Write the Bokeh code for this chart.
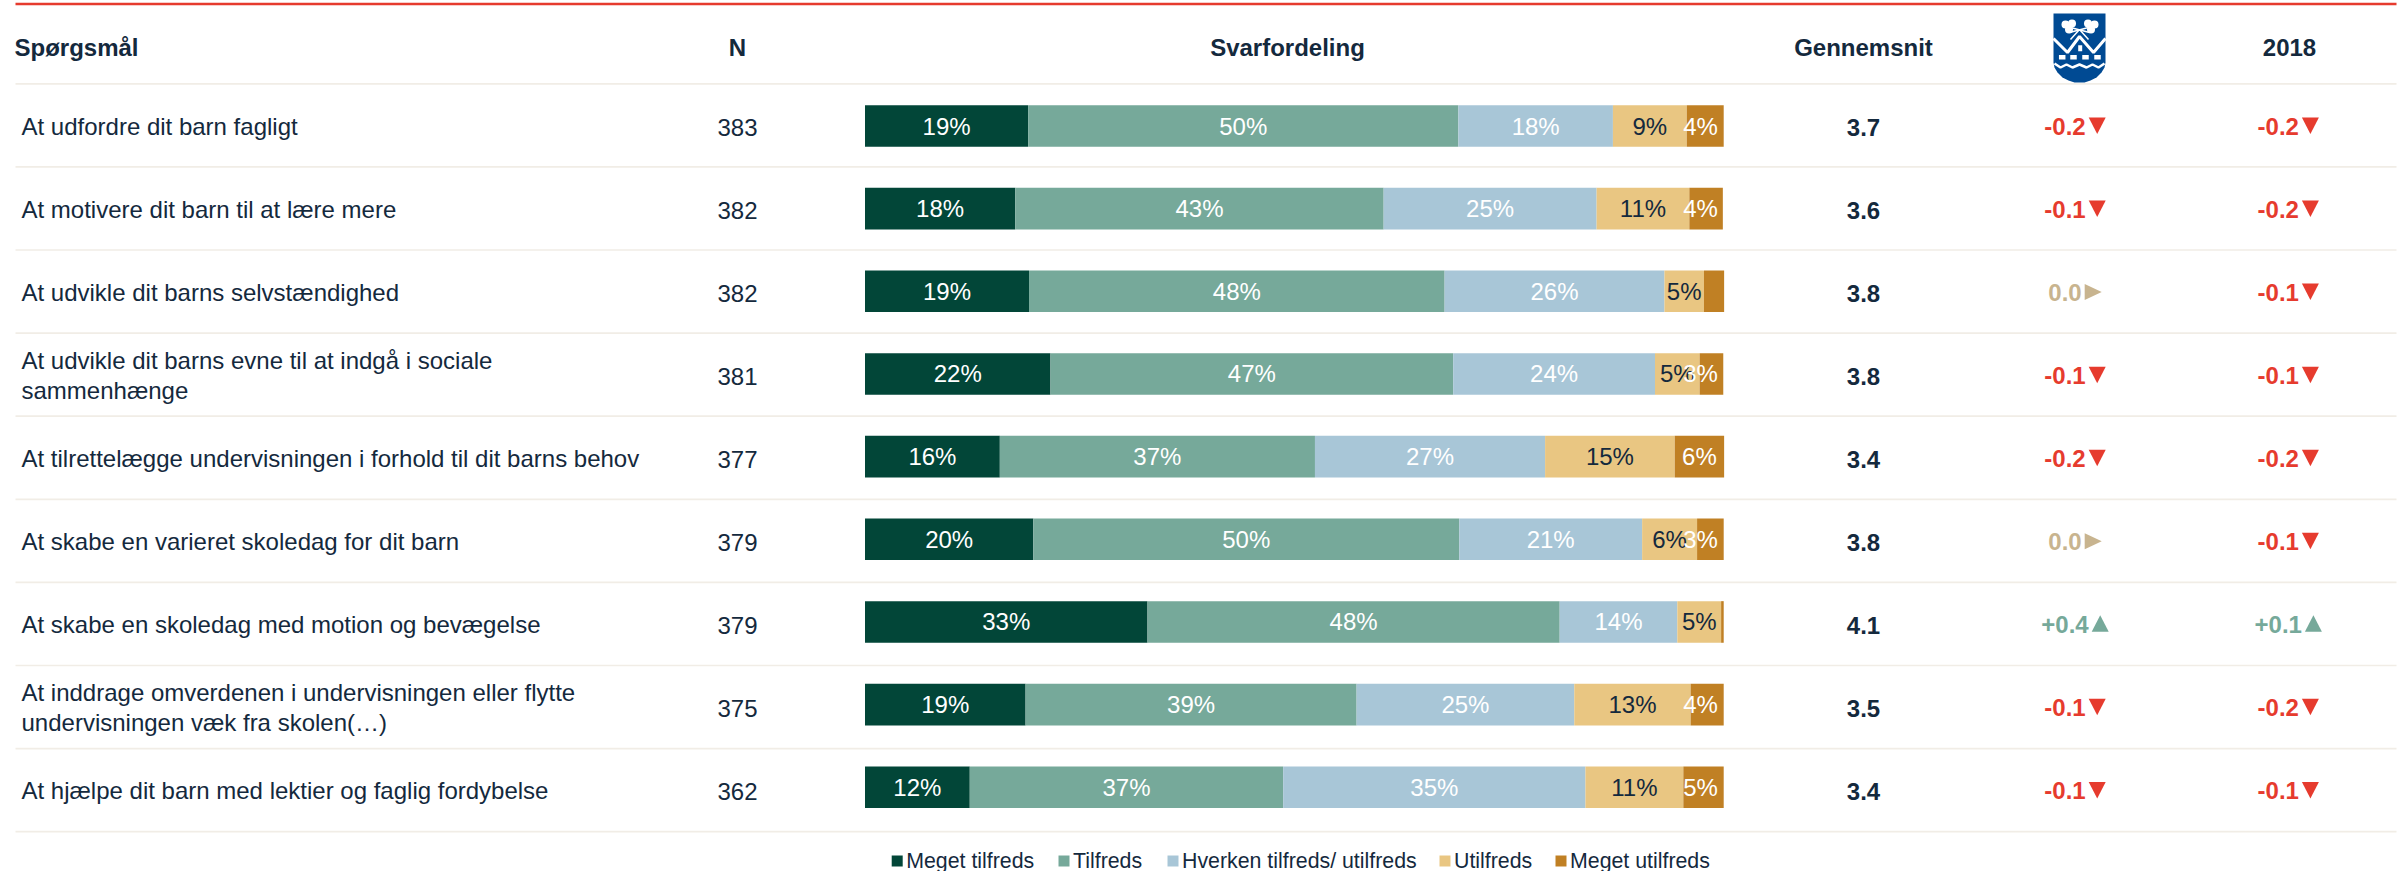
from bokeh.embed import file_html
from bokeh.resources import INLINE
from bokeh.plotting import figure
from bokeh.models import Range1d, ColumnDataSource
from bokeh.core.properties import value

questions = [
    ["At udfordre dit barn fagligt"],
    ["At motivere dit barn til at lære mere"],
    ["At udvikle dit barns selvstændighed"],
    ["At udvikle dit barns evne til at indgå i sociale", "sammenhænge"],
    ["At tilrettelægge undervisningen i forhold til dit barns behov"],
    ["At skabe en varieret skoledag for dit barn"],
    ["At skabe en skoledag med motion og bevægelse"],
    ["At inddrage omverdenen i undervisningen eller flytte", "undervisningen væk fra skolen(…)"],
    ["At hjælpe dit barn med lektier og faglig fordybelse"],
]
n_values = [383, 382, 382, 381, 377, 379, 379, 375, 362]
meget_tilfreds = [19.0, 17.5, 19.1, 21.6, 15.7, 19.6, 32.9, 18.7, 12.2]
tilfreds = [50.1, 42.9, 48.4, 46.9, 36.7, 49.6, 48.0, 38.55, 36.5]
hverken = [18.0, 24.8, 25.6, 23.5, 26.8, 21.3, 13.7, 25.35, 35.2]
utilfreds = [8.6, 10.8, 4.6, 5.2, 15.1, 6.4, 5.1, 13.55, 11.4]
meget_utilfreds = [4.3, 3.9, 2.35, 2.75, 5.75, 3.1, 0.3, 3.85, 4.7]
labels = [
    ["19%", "50%", "18%", "9%", "4%"],
    ["18%", "43%", "25%", "11%", "4%"],
    ["19%", "48%", "26%", "5%", ""],
    ["22%", "47%", "24%", "5%", "3%"],
    ["16%", "37%", "27%", "15%", "6%"],
    ["20%", "50%", "21%", "6%", "3%"],
    ["33%", "48%", "14%", "5%", ""],
    ["19%", "39%", "25%", "13%", "4%"],
    ["12%", "37%", "35%", "11%", "5%"],
]
gennemsnit = ["3.7", "3.6", "3.8", "3.8", "3.4", "3.8", "4.1", "3.5", "3.4"]
kommune = ["-0.2", "-0.1", "0.0", "-0.1", "-0.2", "0.0", "+0.4", "-0.1", "-0.1"]
year2018 = ["-0.2", "-0.2", "-0.1", "-0.1", "-0.2", "-0.1", "+0.1", "-0.2", "-0.1"]
series_names = ["Meget tilfreds", "Tilfreds", "Hverken tilfreds/ utilfreds", "Utilfreds", "Meget utilfreds"]
series_colors = ["#024638", "#76A99A", "#A8C6D7", "#E9C682", "#C08024"]
label_colors = ["#ffffff", "#ffffff", "#ffffff", "#14293D", "#ffffff"]
headers = ["Spørgsmål", "N", "Svarfordeling", "Gennemsnit", "2018"]

W, H = 2404, 871
FONT = value("Liberation Sans")
INK = "#14293D"
RED = "#E63B2E"
GREEN = "#76A99A"
TAN = "#C8B48F"
RULE = "#F1EDE6"
BAR_X0, BAR_W = 864.5, 858.7
X_Q, X_N, X_MEAN, C_K, C_Y = 21, 737, 1863, 2074.5, 2287.7

p = figure(width=W, height=H, output_backend="svg", toolbar_location=None,
           x_range=Range1d(0, W), y_range=Range1d(H, 0),
           min_border=0, margin=0, outline_line_color=None)
p.xaxis.visible = False
p.yaxis.visible = False
p.grid.visible = False
p.background_fill_color = "white"
p.border_fill_color = "white"
# percent scale for the stacked bars
p.extra_x_ranges = {"pct": Range1d(-BAR_X0 / BAR_W * 100, (W - BAR_X0) / BAR_W * 100)}

n_rows = len(questions)
bar_rows = [125.5 + 82.66 * i for i in range(n_rows)]
text_rows = [126.5 + 83.05 * i for i in range(n_rows)]
rule_y = [83.3 + 83.1 * i for i in range(n_rows + 1)]

# rules
p.segment(x0=[15], x1=[2396], y0=[3.4], y1=[3.4], line_color=RED, line_width=2.5)
p.segment(x0=[15] * len(rule_y), x1=[2396] * len(rule_y), y0=rule_y, y1=rule_y, line_color=RULE, line_width=1.7)

# bars
columns = [meget_tilfreds, tilfreds, hverken, utilfreds, meget_utilfreds]
lefts = [0.0] * n_rows
for k, col in enumerate(columns):
    rights = [a + b for a, b in zip(lefts, col)]
    src = ColumnDataSource(dict(l=lefts, r=rights, y=bar_rows))
    p.hbar(y="y", left="l", right="r", height=41.6, source=src, x_range_name="pct",
           fill_color=series_colors[k], line_color=None)
    lefts = rights
MAX_LABEL_CENTRE = 97.3
for k, col in enumerate(columns):
    starts = [sum(c[i] for c in columns[:k]) for i in range(n_rows)]
    mids = [min(a + b / 2, MAX_LABEL_CENTRE) for a, b in zip(starts, col)]
    p.text(x=mids, y=bar_rows, text=[r[k] for r in labels], x_range_name="pct", text_font=FONT,
           text_font_size="24px", text_color=label_colors[k], text_align="center", text_baseline="middle")

def txt(x, y, t, size="24px", color=INK, align="left", style="normal"):
    p.text(x=[x], y=[y], text=[t], text_font=FONT, text_font_size=size, text_color=color,
           text_align=align, text_baseline="middle", text_font_style=style)

# headers
for hx, t, al in zip([14, X_N, 1287, X_MEAN, 2289], headers, ["left"] + ["center"] * 4):
    txt(hx, 47, t, "24px", INK, al, "bold")

def delta(c, y, s):
    v = float(s)
    if v < 0:
        col, right, tc = RED, 10.7, 22.2
        p.patch([c + tc - 8.5, c + tc + 8.5, c + tc], [y - 8.5, y - 8.5, y + 8], fill_color=col, line_color=None)
    elif v > 0:
        col, right, tc = GREEN, 13.7, 25.2
        p.patch([c + tc - 8.5, c + tc + 8.5, c + tc], [y + 7.5, y + 7.5, y - 9], fill_color=col, line_color=None)
    else:
        col, right, tc = TAN, 6.7, 18.2
        p.patch([c + tc - 8.5, c + tc + 8.5, c + tc - 8.5], [y - 8, y, y + 8], fill_color=col, line_color=None)
    txt(c + right, y, s, "24px", col, "right", "bold")

for i, y in enumerate(text_rows):
    q = questions[i]
    if len(q) == 1:
        txt(X_Q, y - 1, q[0])
    else:
        txt(X_Q, y - 15.5, q[0])
        txt(X_Q, y + 14.5, q[1])
    txt(X_N, y, str(n_values[i]), "24px", INK, "center")
    txt(X_MEAN, y, gennemsnit[i], "24px", INK, "center", "bold")
    delta(C_K, y - 1, kommune[i])
    delta(C_Y, y - 1, year2018[i])

# legend
legend_x = [896.7, 1063.5, 1172.5, 1444.5, 1560.5]
for k, name in enumerate(series_names):
    p.scatter(x=[legend_x[k]], y=[860.5], marker="square", size=11, fill_color=series_colors[k], line_color=None)
    txt(legend_x[k] + 9, 860, name, "21.33px")

# shield logo
BLUE = "#004A93"
shield_x = [2053, 2105, 2105, 2104, 2101, 2096, 2090, 2084, 2079, 2074, 2068, 2062, 2057, 2054, 2053]
shield_y = [13, 13, 62, 67, 72, 77, 80, 82, 82, 82, 80, 77, 72, 67, 62]
p.patch(shield_x, shield_y, fill_color=BLUE, line_color=None)
p.line([2053, 2067, 2079, 2093, 2105], [38, 52, 36, 52, 38], line_color="white", line_width=3)
p.rect(x=[2079.7], y=[47.8], width=4, height=6, fill_color="white", line_color=None)
p.rect(x=[2061.7, 2073, 2085, 2097], y=[56.7] * 4, width=6.5, height=4.5, fill_color="white", line_color=None)
p.line([2054, 2060, 2066, 2072, 2079, 2086, 2092, 2098, 2104], [63, 67, 64, 67, 64, 67, 64, 67, 63],
       line_color="white", line_width=2.5)
p.scatter(x=[2065, 2071.5, 2068.5, 2087.5, 2094, 2090.5], y=[24, 23, 29, 23, 24, 29], marker="circle", size=8,
          fill_color="white", line_color=None)
p.line([2069, 2088], [32, 27], line_color="white", line_width=1.5)
p.line([2089, 2070], [32, 27], line_color="white", line_width=1.5)
p.line([2070, 2079, 2088], [39, 29, 39], line_color="white", line_width=1.5)

open("out.html", "w").write(file_html(p, INLINE))
